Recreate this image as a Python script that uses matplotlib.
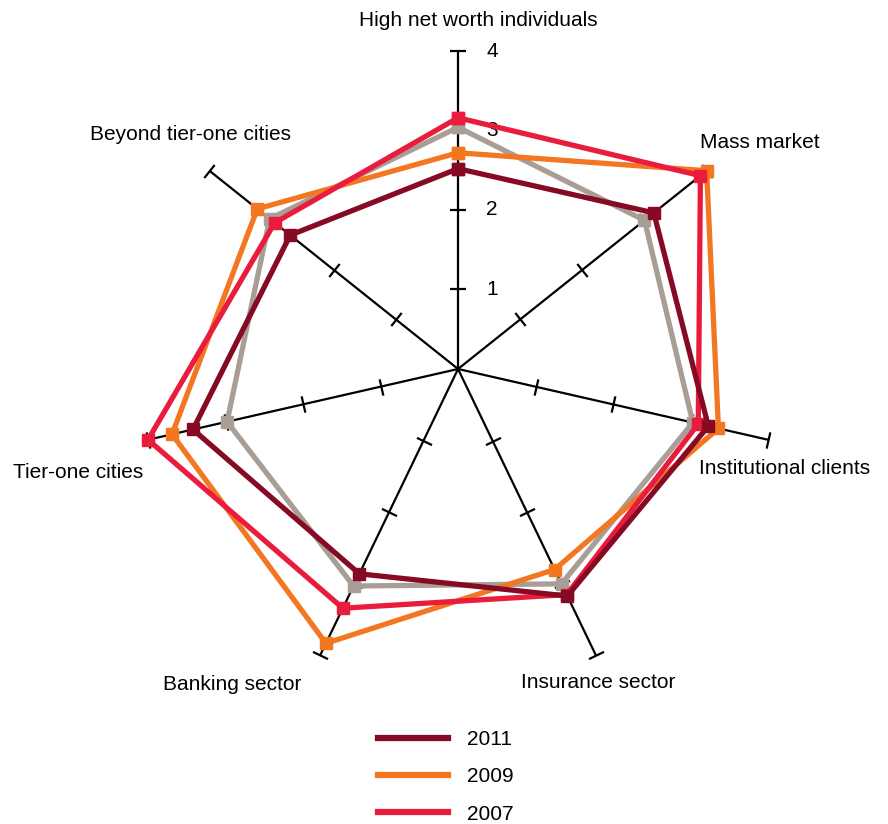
import matplotlib.pyplot as plt
import matplotlib.transforms as mtransforms
from matplotlib.lines import Line2D
import numpy as np

plt.rcParams['font.family'] = ['Liberation Sans', 'DejaVu Sans']

categories = ['High net worth individuals', 'Mass market', 'Institutional clients',
              'Insurance sector', 'Banking sector', 'Tier-one cities',
              'Beyond tier-one cities']
y2011 = [2.52, 3.15, 3.23, 3.17, 2.86, 3.42, 2.70]
y2009 = [2.72, 4.00, 3.36, 2.80, 3.83, 3.69, 3.23]
y2007 = [3.16, 3.90, 3.10, 3.15, 3.34, 4.00, 2.95]
y_grey = [3.04, 3.00, 3.03, 3.00, 3.03, 2.98, 3.03]   # unlabelled series
r_ticks = [1, 2, 3, 4]

n = len(categories)
theta = np.arange(n) * 2 * np.pi / n

fig = plt.figure(figsize=(8.88, 8.24), dpi=100)
ax = fig.add_axes([0.1577, 0.1663, 0.7162, 0.7718], projection='polar')
ax.set_theta_zero_location('N')
ax.set_theta_direction(-1)
ax.set_ylim(0, 4)
ax.grid(False)
ax.spines['polar'].set_visible(False)
ax.set_xticks([])
ax.set_yticks([])
ax.patch.set_alpha(0)

# spokes with perpendicular tick marks
for t in theta:
    ax.plot([t, t], [0, 4], color='black', lw=1.6, zorder=1)
    phi = 90 - np.degrees(t)
    ax.plot([t] * len(r_ticks), r_ticks, ls='none', marker=(2, 0, phi),
            ms=12, mec='black', mew=1.6, zorder=1, clip_on=False)

# value labels right of the top spoke
offset = ax.transData + mtransforms.ScaledTranslation(0.28, 0, fig.dpi_scale_trans)
for r in r_ticks:
    ax.text(0, r, str(r), transform=offset, fontsize=15, ha='left', va='center')

def closed(v):
    return list(v) + [v[0]]

th = closed(theta)
series = [(y_grey, '#a89e95', '_nolegend_', 2),
          (y2009, '#f37721', '2009', 3),
          (y2007, '#ea1c3d', '2007', 4),
          (y2011, '#870a24', '2011', 5)]
for vals, col, lab, z in series:
    ax.plot(th, closed(vals), color=col, lw=3.8, marker='s', ms=8,
            solid_joinstyle='miter', label=lab, zorder=z, clip_on=False)

label_pos = [(478, 20), (760, 143), (785, 468), (598, 683),
             (232, 685), (78, 472), (190, 135)]
for name, (px, py) in zip(categories, label_pos):
    fig.text(px / 888, 1 - py / 824, name, fontsize=15, ha='center', va='center')

leg_h = [Line2D([], [], color=c, lw=4.5) for c in ['#870a24', '#f37721', '#ea1c3d']]
fig.legend(leg_h, ['2011', '2009', '2007'], loc='upper left',
           bbox_to_anchor=(378 / 888, 1 - 730 / 824), frameon=False,
           fontsize=15, handlelength=3.35, handletextpad=0.9,
           labelspacing=0.88, borderpad=0, borderaxespad=0)

fig.savefig('out.png', dpi=100)
